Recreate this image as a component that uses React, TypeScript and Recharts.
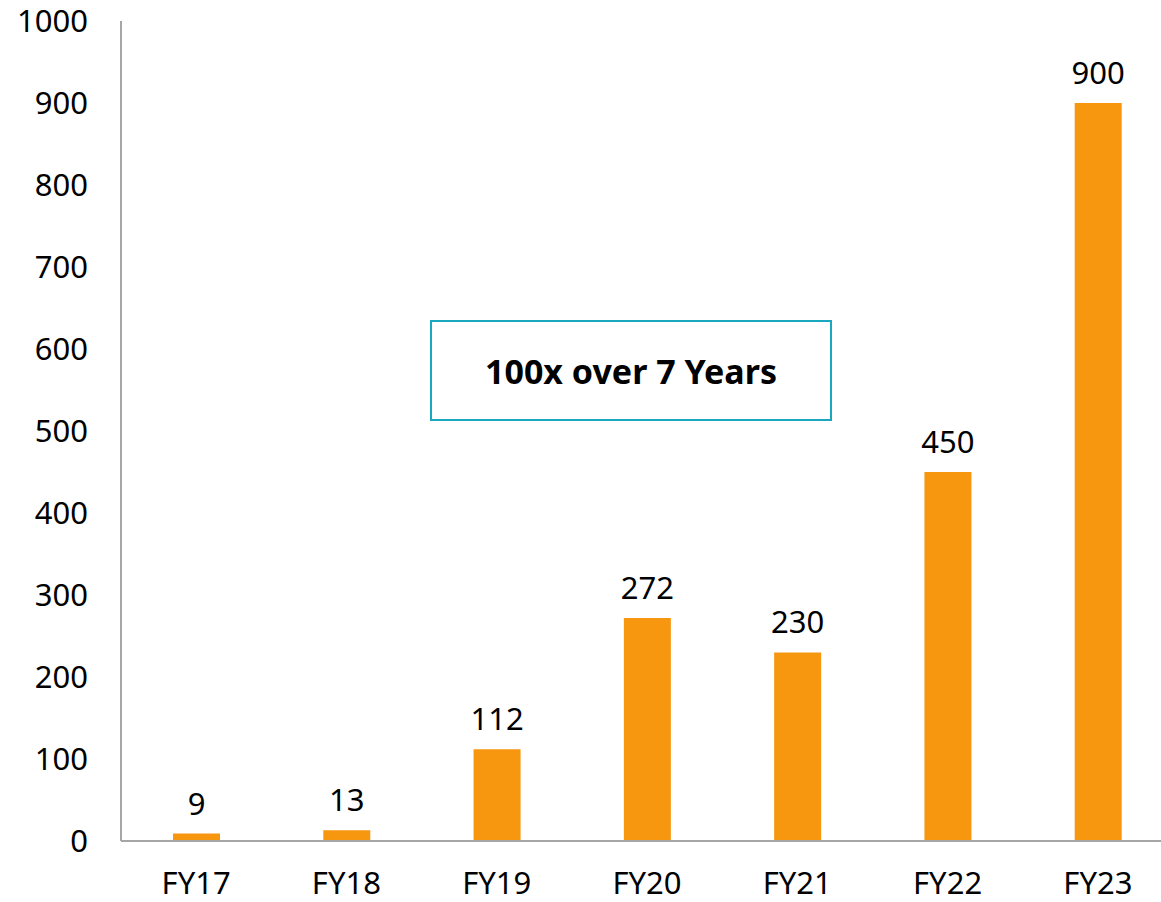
import React from "react";
import { BarChart, Bar, XAxis, YAxis, LabelList } from "recharts";

const years = ["FY17", "FY18", "FY19", "FY20", "FY21", "FY22", "FY23"];
const values = [9, 13, 112, 272, 230, 450, 900];
const yTicks = [0, 100, 200, 300, 400, 500, 600, 700, 800, 900, 1000];

const data = years.map((year, i) => ({ year, value: values[i] }));

const FONT = "'Noto Sans', 'Open Sans', sans-serif";

export default function App() {
  return (
    <div
      style={{
        position: "absolute",
        left: 0,
        top: 0,
        width: 1161,
        height: 902,
        overflow: "hidden",
        fontFamily: FONT,
      }}
    >
      {/* plot runs slightly past the right edge, like the cropped original */}
      <BarChart
        width={1173}
        height={902}
        data={data}
        margin={{ top: 21, right: 0, left: 0, bottom: 0 }}
        barCategoryGap={0}
      >
        <XAxis
          dataKey="year"
          height={61}
          stroke="#a6a6a6"
          strokeWidth={2}
          tickLine={false}
          tickSize={0}
          tickMargin={31}
          tick={{ fill: "#000", fontSize: 31, fontFamily: FONT }}
        />
        <YAxis
          width={121}
          domain={[0, 1000]}
          ticks={yTicks}
          interval={0}
          stroke="#a6a6a6"
          strokeWidth={2}
          tickLine={false}
          tickSize={0}
          tickMargin={33}
          tick={{ fill: "#000", fontSize: 31, fontFamily: FONT }}
        />
        <Bar dataKey="value" fill="#f7960f" barSize={47} isAnimationActive={false}>
          <LabelList
            dataKey="value"
            position="top"
            offset={19}
            style={{ fill: "#000", fontSize: 31, fontFamily: FONT }}
          />
        </Bar>
      </BarChart>
      <div
        style={{
          position: "absolute",
          left: 430,
          top: 320,
          width: 398,
          height: 97,
          border: "2px solid #1aa7bf",
          display: "flex",
          alignItems: "center",
          justifyContent: "center",
          fontSize: 34,
          fontWeight: 700,
          color: "#000",
        }}
      >
        100x over 7 Years
      </div>
    </div>
  );
}
